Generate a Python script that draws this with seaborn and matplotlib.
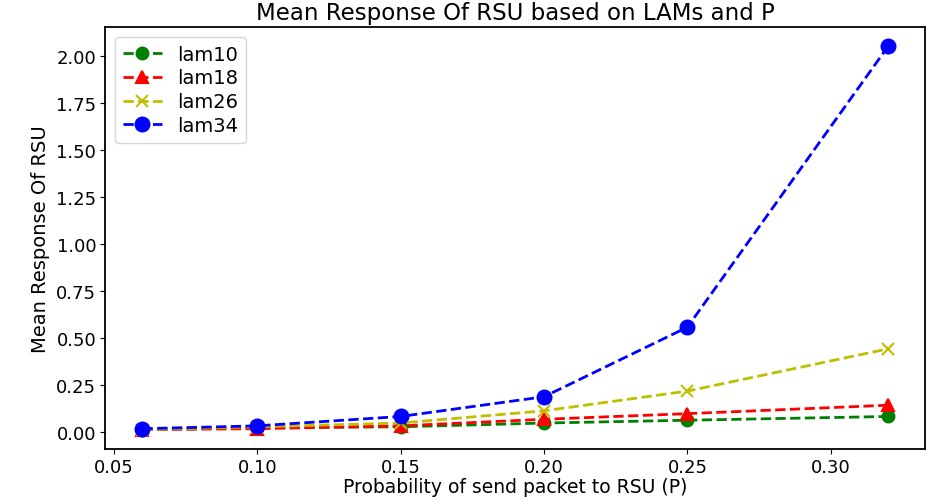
import pandas as pd
import seaborn as sns
import matplotlib.pyplot as plt
import numpy as np

# data
p = [0.06, 0.10, 0.15, 0.20, 0.25, 0.32]
lam10 = [0.01, 0.02, 0.025, 0.045, 0.06, 0.08]
lam18 = [0.01, 0.015, 0.03, 0.065, 0.095, 0.14]
lam26 = [0.01, 0.025, 0.045, 0.11, 0.215, 0.44]
lam34 = [0.015, 0.03, 0.08, 0.185, 0.555, 2.05]

sns.set_style("ticks")
plt.rcParams['font.family'] = ['DejaVu Sans']
plt.rcParams['text.color'] = 'black'
plt.rcParams['axes.labelcolor'] = 'black'
plt.rcParams['xtick.color'] = 'black'
plt.rcParams['ytick.color'] = 'black'

fig, ax = plt.subplots(figsize=(9.31, 5.02), dpi=100)
fig.subplots_adjust(left=0.113, right=0.994, bottom=0.104, top=0.944)

series = [
    ("lam10", lam10, "g", "o", 8.5),
    ("lam18", lam18, "r", "^", 8.5),
    ("lam26", lam26, "y", "x", 8.5),
    ("lam34", lam34, "b", "o", 10),
]
for name, vals, c, m, ms in series:
    sns.lineplot(x=p, y=vals, ax=ax, color=c, marker=m, markersize=ms,
                 linestyle="--", linewidth=2, label=name,
                 markeredgecolor=c, markeredgewidth=1.5)

for s in ax.spines.values():
    s.set_visible(True)
    s.set_color("black")
    s.set_linewidth(1.3)

ax.set_title("Mean Response Of RSU based on LAMs and P", fontsize=16.5)
ax.set_xlabel("Probability of send packet to RSU (P)", fontsize=13.5, labelpad=1)
ax.set_ylabel("Mean Response Of RSU", fontsize=14)
ax.tick_params(labelsize=13, pad=3)
ax.set_xticks([0.05, 0.10, 0.15, 0.20, 0.25, 0.30])
ax.set_yticks(np.arange(0, 2.01, 0.25))
ax.legend(loc="upper left", fontsize=14, labelspacing=0.25)

fig.savefig("out.png")
